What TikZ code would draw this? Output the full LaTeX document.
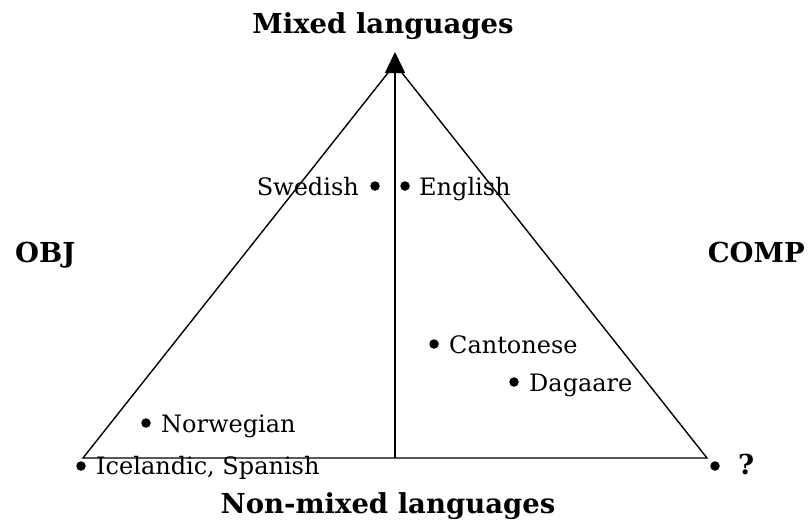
\documentclass[tikz,border=0pt]{standalone}
\usepackage{fontspec}
\setmainfont{DejaVu Serif}
\usetikzlibrary{arrows.meta}
\tikzset{
  edge/.style={line width=1.4pt},
  dot/.style={circle,fill=black,inner sep=0pt,minimum size=9.5pt},
  lab/.style={inner sep=0pt,anchor=base west,font=\fontsize{24}{28}\selectfont},
  title/.style={inner sep=0pt,anchor=base,font=\bfseries\fontsize{27.5}{32}\selectfont},
}
\begin{document}
\begin{tikzpicture}[x=1pt,y=-1pt]
\useasboundingbox (0,0) rectangle (809,523);
\coordinate (L) at (83,458);
\coordinate (R) at (707,458);
\coordinate (A) at (395,64);
\coordinate (B) at (395,458);
\coordinate (T) at (395,52);
\draw[edge] (L) -- (A) -- (R) -- cycle;
\draw[edge,-{Triangle[length=21pt,width=20pt]}] (B) -- (T);
% titles
\node[title] (mixed) at (383,33) {Mixed languages};
\node[title] (nonmixed) at (388,513) {Non-mixed languages};
\node[title,anchor=base west] (obj) at (15,262) {OBJ};
\node[title,anchor=base east] (comp) at (805,262) {COMP};
% languages
\node[dot] (dsw) at (375,186) {};
\node[lab,anchor=base east] (sw) at (359,195) {Swedish};
\node[dot] (den) at (405,186) {};
\node[lab] (en) at (419,195) {English};
\node[dot] (dca) at (434,344) {};
\node[lab] (ca) at (449,353) {Cantonese};
\node[dot] (dda) at (514,382) {};
\node[lab] (da) at (529,391) {Dagaare};
\node[dot] (dno) at (146,423) {};
\node[lab] (no) at (161,432) {Norwegian};
\node[dot] (dis) at (81,466) {};
\node[lab] (is) at (96,474) {Icelandic, Spanish};
\node[dot] (dq) at (715,466) {};
\node[title,anchor=base west] (q) at (738,474) {?};
\end{tikzpicture}
\end{document}
